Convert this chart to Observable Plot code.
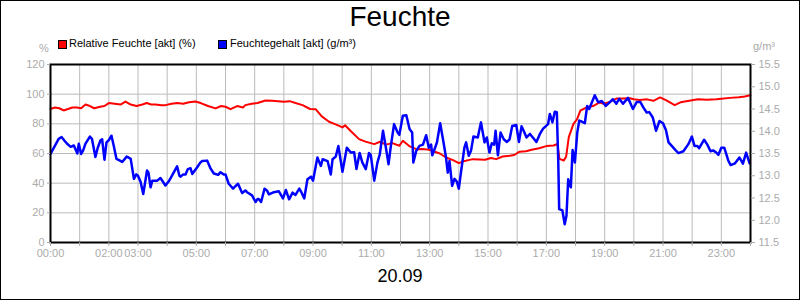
<!DOCTYPE html>
<html>
<head>
<meta charset="utf-8">
<script src="https://cdn.jsdelivr.net/npm/d3@7"></script>
<script src="https://cdn.jsdelivr.net/npm/@observablehq/plot@0.6"></script>
<style>
  html, body { margin: 0; padding: 0; background: #fff; }
  #wrap { position: relative; width: 800px; height: 300px; font-family: "Liberation Sans", Arial, sans-serif; overflow: hidden; }
  #wrap svg { position: absolute; left: 0; top: 0; }
  .t { position: absolute; white-space: nowrap; }
  #title { left: 0; width: 800px; text-align: center; top: 3px; font-size: 28px; line-height: 28px; color: #000; }
  #caption { left: 0; width: 800px; text-align: center; top: 267px; font-size: 18px; line-height: 18px; color: #000; }
  .leg { top: 38px; font-size: 11px; line-height: 11px; color: #000; }
  .sw { position: absolute; top: 40px; width: 7px; height: 7px; border: 1px solid #000; }
  .unit { font-size: 11px; line-height: 11px; color: #aaaaaa; }
  #border { position: absolute; left: 0; top: 0; width: 800px; height: 300px; box-sizing: border-box; border: 1px solid #000; pointer-events: none; }
</style>
</head>
<body>
<div id="wrap">
  <div id="title" class="t">Feuchte</div>
  <div class="sw" style="left:58px;background:#ff0000"></div>
  <div class="t leg" style="left:69px">Relative Feuchte [akt] (%)</div>
  <div class="sw" style="left:218px;background:#0000ff"></div>
  <div class="t leg" style="left:230px">Feuchtegehalt [akt] (g/m³)</div>
  <div class="t unit" style="left:39px;top:43px">%</div>
  <div class="t unit" style="left:753px;top:41px">g/m³</div>
  <div id="caption" class="t">20.09</div>
  <div id="border"></div>
</div>
<script>
// ---- data ----
const hourTicks = [0,1,2,3,4,5,6,7,8,9,10,11,12,13,14,15,16,17,18,19,20,21,22,23,24];
const labelHours = [0,2,3,5,7,9,11,13,15,17,19,21,23];
const leftTicks = [0,20,40,60,80,100,120];
const rightTicks = [11.5,12.0,12.5,13.0,13.5,14.0,14.5,15.0,15.5];

// Relative Feuchte [akt] (%)
const redHours = [0,0.15,0.3,0.45,0.6,0.75,0.9,1.05,1.2,1.35,1.5,1.7,1.85,2,2.2,2.4,2.57,2.75,2.95,3.15,3.3,3.45,3.6,3.8,3.94,4.15,4.35,4.55,4.75,4.97,5.15,5.4,5.66,5.85,6,6.17,6.4,6.6,6.68,6.9,7.1,7.37,7.6,7.8,8,8.2,8.4,8.64,8.9,9.09,9.3,9.55,9.8,10.01,10.1,10.3,10.58,10.8,11.1,11.3,11.5,11.72,11.96,12.08,12.3,12.54,12.75,12.99,13.2,13.35,13.56,13.8,14,14.2,14.48,14.7,14.9,15.1,15.28,15.5,15.74,15.9,16.08,16.3,16.5,16.75,17,17.25,17.38,17.45,17.6,17.68,17.77,17.93,18.05,18.17,18.4,18.6,18.83,18.97,19.2,19.4,19.6,19.86,20,20.2,20.45,20.67,20.9,21.1,21.4,21.6,21.9,22.2,22.5,22.83,23,23.3,23.6,23.8,24];
const redValues = [90,91,90.5,89,90,91,91,90.5,93,92,90.5,91.5,92,94,93.5,93,95,93,92,93,94,93,93,92.5,92.6,93.5,94,93.5,94.5,95,94,92,90.4,92,91.5,89.9,92,91,92.6,93.5,94,95.7,95.5,95.3,94.9,95.3,94,92.6,90,89.9,85,81.4,79.5,77.6,79,75,69.7,68,66.3,67.9,66,67,65.2,68.6,65,62.9,63,62.5,61,60,57.3,55.5,53.5,55,56.2,56,55.8,57,56.2,58,58.5,59,61.2,61.5,62.5,63.5,65,65.4,66.5,56.4,55.3,58,71,80,83,89,91.2,92,94.4,93.5,95,97,97,97.3,96.6,96,96.5,95.5,97.8,96,92.6,94.5,95.5,96.5,96.3,96.6,96.9,97.5,98,98.5,99.2];

// Feuchtegehalt [akt] (g/m³)
const blueHours = [0,0.15,0.28,0.38,0.5,0.57,0.69,0.8,0.92,0.97,1.05,1.12,1.2,1.35,1.42,1.54,1.62,1.71,1.77,1.85,1.92,2,2.09,2.17,2.26,2.35,2.46,2.61,2.7,2.75,2.86,2.94,3,3.09,3.18,3.31,3.36,3.43,3.49,3.66,3.77,3.94,4.05,4.17,4.34,4.42,4.46,4.55,4.63,4.71,4.8,4.86,5.03,5.14,5.2,5.37,5.49,5.6,5.66,5.75,5.83,5.94,6,6.11,6.26,6.35,6.43,6.57,6.68,6.74,6.91,7.03,7.1,7.14,7.22,7.34,7.42,7.49,7.66,7.83,7.97,8.07,8.18,8.3,8.4,8.53,8.61,8.7,8.81,8.93,9,9.15,9.27,9.33,9.5,9.61,9.67,9.78,9.87,10.01,10.16,10.3,10.41,10.49,10.6,10.69,10.81,10.92,10.98,11.1,11.21,11.29,11.4,11.5,11.59,11.67,11.78,11.9,11.96,12.08,12.2,12.31,12.4,12.44,12.54,12.65,12.77,12.88,12.97,13.05,13.09,13.17,13.25,13.36,13.48,13.56,13.62,13.68,13.77,13.85,13.93,14,14.08,14.19,14.25,14.34,14.42,14.5,14.65,14.76,14.88,14.96,15.05,15.13,15.21,15.26,15.34,15.43,15.54,15.65,15.74,15.83,15.97,16.06,16.15,16.23,16.32,16.44,16.55,16.66,16.78,16.89,17.06,17.12,17.21,17.29,17.36,17.41,17.44,17.55,17.63,17.69,17.75,17.8,17.84,17.9,17.98,18.06,18.13,18.2,18.32,18.4,18.47,18.55,18.66,18.78,18.9,19.04,19.17,19.28,19.4,19.5,19.63,19.8,19.97,20.1,20.22,20.33,20.44,20.53,20.65,20.76,20.88,21,21.1,21.19,21.3,21.42,21.53,21.7,21.87,21.99,22.08,22.18,22.24,22.41,22.52,22.63,22.72,22.81,22.9,23,23.1,23.24,23.32,23.47,23.62,23.74,23.85,23.97];
const blueValues = [13.49,13.67,13.83,13.87,13.77,13.72,13.65,13.68,13.50,13.72,13.49,13.57,13.72,13.88,13.83,13.42,13.63,13.79,13.82,13.36,13.75,13.80,13.90,13.67,13.38,13.35,13.31,13.43,13.40,13.38,12.93,13.03,13.00,12.86,12.59,13.12,13.07,12.74,12.89,12.89,12.95,12.78,12.87,13.01,13.21,13.00,12.98,13.03,13.03,13.15,13.17,13.04,13.19,13.30,13.33,13.34,13.16,13.05,13.04,13.02,13.08,13.03,13.03,12.82,12.71,12.77,12.82,12.61,12.67,12.63,12.56,12.41,12.48,12.48,12.41,12.71,12.67,12.58,12.63,12.65,12.49,12.68,12.47,12.62,12.57,12.71,12.62,12.49,12.92,12.98,12.89,13.41,13.22,13.37,13.33,13.03,13.37,13.43,13.67,13.09,13.63,13.52,13.53,13.15,13.51,13.30,13.15,13.51,13.47,12.89,13.30,13.48,14.01,13.63,13.26,13.67,14.16,13.97,13.92,14.35,14.36,14.05,13.97,13.30,13.56,13.67,13.70,13.91,13.63,13.70,13.46,13.60,13.75,14.18,13.73,13.41,13.07,13.33,12.77,12.93,12.87,12.71,13.11,13.63,13.75,13.45,13.57,13.88,13.86,14.20,13.75,13.86,13.52,13.73,13.70,14.01,13.46,13.97,13.82,13.76,13.82,14.12,14.14,13.76,14.11,14.00,13.86,13.94,13.85,13.76,13.94,14.06,14.16,14.39,14.20,14.44,14.43,13.30,12.25,12.22,11.91,12.10,12.92,12.83,12.74,13.58,13.30,13.97,14.24,14.22,14.18,14.57,14.50,14.63,14.81,14.65,14.68,14.57,14.65,14.72,14.62,14.73,14.62,14.75,14.50,14.66,14.66,14.53,14.42,14.43,14.31,14.01,14.23,14.18,14.03,13.75,13.67,13.58,13.51,13.55,13.71,13.88,13.67,13.67,13.62,13.81,13.70,13.55,13.57,13.53,13.47,13.63,13.63,13.34,13.24,13.28,13.41,13.27,13.52,13.28];

// ---- build ----
const red = redHours.map((h, i) => ({h, v: redValues[i]}));
const blue = blueHours.map((h, i) => ({h, g: blueValues[i]}));
// right axis (g/m³) shares the vertical scale: 11.5..15.5 <-> 0..120
const toLeft = g => (g - 11.5) * 30;
const fmtHour = h => String(h).padStart(2, "0") + ":00";
const axisGray = "#ababab";

const chart = Plot.plot({
  width: 800,
  height: 300,
  marginTop: 64,
  marginBottom: 58,
  marginLeft: 50,
  marginRight: 50,
  style: {fontFamily: "'Liberation Sans', Arial, sans-serif", fontSize: "11px", background: "transparent"},
  x: {domain: [0, 24]},
  y: {domain: [0, 120]},
  marks: [
    Plot.gridX(hourTicks, {stroke: "#bbbbbb", strokeOpacity: 1}),
    Plot.gridY(leftTicks, {stroke: "#bbbbbb", strokeOpacity: 1}),
    Plot.line(red, {x: "h", y: "v", stroke: "#ff0000", strokeWidth: 2}),
    Plot.line(blue, {x: "h", y: d => toLeft(d.g), stroke: "#0000ff", strokeWidth: 2.5}),
    Plot.frame({stroke: "#000", strokeWidth: 2}),
    Plot.axisX(hourTicks, {anchor: "bottom", tickSize: 4, tickFormat: () => "", stroke: axisGray, label: null}),
    Plot.axisX(labelHours, {anchor: "bottom", tickSize: 0, tickPadding: 7, tickFormat: fmtHour, fill: axisGray, label: null}),
    Plot.axisY(leftTicks, {anchor: "left", tickSize: 3, tickPadding: 3, color: axisGray, label: null}),
    Plot.axisY(rightTicks.map(toLeft), {anchor: "right", tickSize: 4, tickPadding: 4, color: axisGray, label: null,
      tickFormat: v => (11.5 + v / 30).toFixed(1)})
  ]
});
document.getElementById("wrap").insertBefore(chart, document.getElementById("border"));
</script>
</body>
</html>
